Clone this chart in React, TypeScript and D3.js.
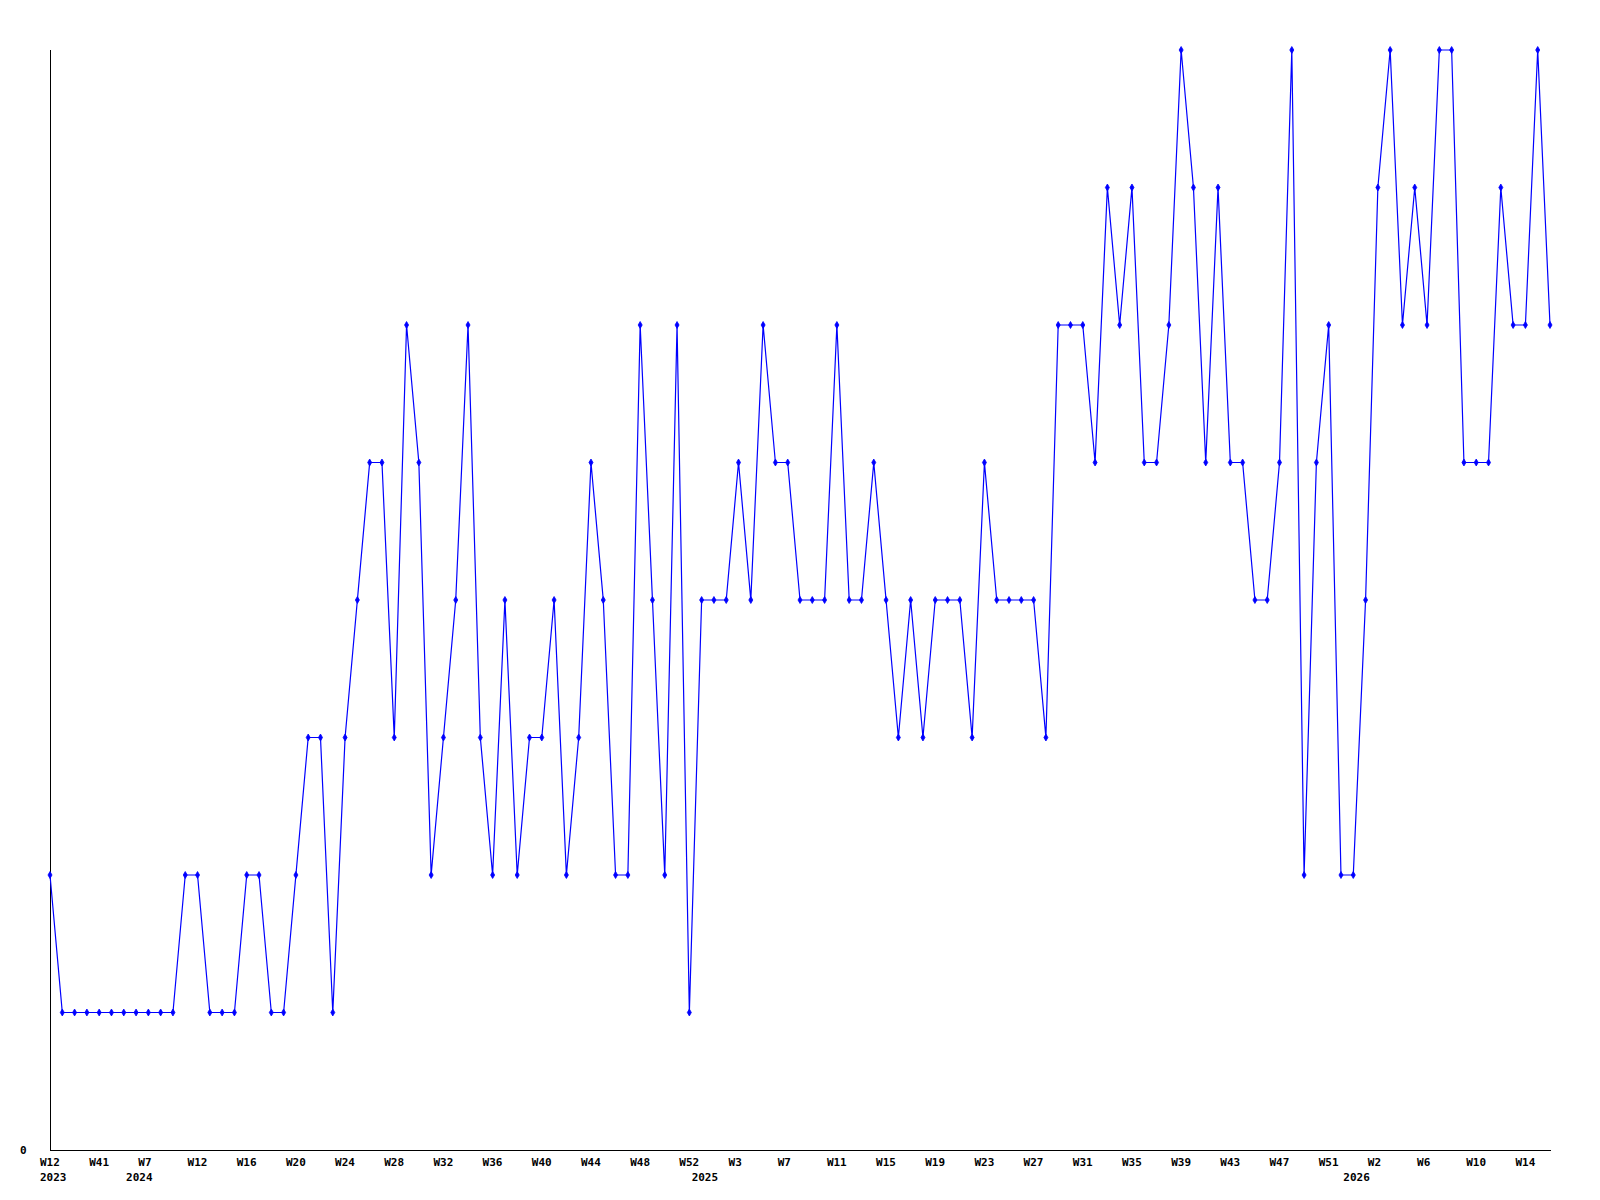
import React from "react";
import * as d3 from "d3";

const values: number[] = [
  2, 1, 1, 1, 1, 1, 1, 1, 1, 1, 1,
  2, 2, 1, 1, 1, 2, 2, 1, 1, 2,
  3, 3, 1, 3, 4, 5, 5, 3, 6, 5,
  2, 3, 4, 6, 3, 2, 4, 2, 3, 3,
  4, 2, 3, 5, 4, 2, 2, 6, 4, 2,
  6, 1, 4, 4, 4, 5, 4, 6, 5, 5,
  4, 4, 4, 6, 4, 4, 5, 4, 3, 4,
  3, 4, 4, 4, 3, 5, 4, 4, 4, 4,
  3, 6, 6, 6, 5, 7, 6, 7, 5, 5,
  6, 8, 7, 5, 7, 5, 5, 4, 4, 5,
  8, 2, 5, 6, 2, 2, 4, 7, 8, 6,
  7, 6, 8, 8, 5, 5, 5, 7, 6, 6,
  8, 6,
];

const weekLabels: string[] = [
  "W12", "W41", "W7", "W12", "W16", "W20", "W24", "W28", "W32", "W36", "W40",
  "W44", "W48", "W52", "W3", "W7", "W11", "W15", "W19", "W23", "W27", "W31",
  "W35", "W39", "W43", "W47", "W51", "W2", "W6", "W10", "W14",
];
const weekLabelStep = 4;

const yearLabels: string[] = ["2023", "2024", "2025", "2026"];
const yearLabelIndex: number[] = [0, 7, 53, 106];

const yTickValues: number[] = [0];

const W = 1600;
const H = 1200;
const left = 50;
const right = 1550;
const top = 50;
const bottom = 1150;
const fontFamily = "'DejaVu Sans Mono', monospace";

export default function App() {
  const x = d3.scaleLinear().domain([0, values.length - 1]).range([left, right]);
  const y = d3.scaleLinear().domain([0, 8]).range([bottom, top]);
  const line = d3
    .line<number>()
    .x((_, i) => x(i))
    .y((d) => y(d));
  const diamond = d3.symbol().type(d3.symbolDiamond).size(14)();

  return (
    <svg
      width={W}
      height={H}
      style={{ position: "absolute", left: 0, top: 0, background: "#fff" }}
    >
      <rect x={0} y={0} width={W} height={H} fill="#fff" />
      <line x1={left + 0.5} x2={left + 0.5} y1={top} y2={bottom + 1} stroke="#000" strokeWidth={1} shapeRendering="crispEdges" />
      <line x1={left} x2={right + 1} y1={bottom + 0.5} y2={bottom + 0.5} stroke="#000" strokeWidth={1} shapeRendering="crispEdges" />
      {yTickValues.map((v) => (
        <text
          key={v}
          x={20}
          y={y(v) + 4}
          fontFamily={fontFamily}
          fontWeight="bold"
          fontSize={11}
          fill="#000"
        >
          {v}
        </text>
      ))}
      {weekLabels.map((t, k) => (
        <text
          key={"w" + k}
          x={x(k * weekLabelStep) - 10}
          y={1166}
          fontFamily={fontFamily}
          fontWeight="bold"
          fontSize={11}
          fill="#000"
        >
          {t}
        </text>
      ))}
      {yearLabels.map((t, k) => (
        <text
          key={"y" + k}
          x={x(yearLabelIndex[k]) - 10}
          y={1181}
          fontFamily={fontFamily}
          fontWeight="bold"
          fontSize={11}
          fill="#000"
        >
          {t}
        </text>
      ))}
      <path d={line(values) || ""} fill="none" stroke="#0000ff" strokeWidth={1.2} />
      {values.map((v, i) => (
        <path key={i} d={diamond} transform={`translate(${x(i)},${y(v)})`} fill="#0000ff" stroke="#0000ff" strokeWidth={0.8} />
      ))}
    </svg>
  );
}
